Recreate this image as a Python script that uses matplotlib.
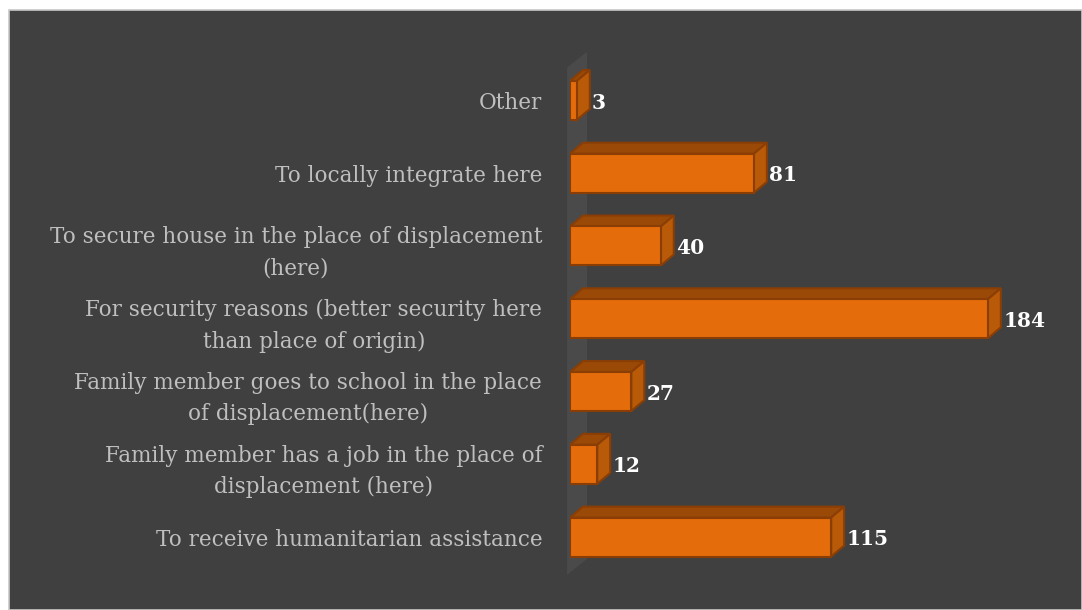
import matplotlib
matplotlib.use("Agg")
import matplotlib.pyplot as plt
from matplotlib.patches import Polygon, Rectangle

categories = [
    "To receive humanitarian assistance",
    "Family member has a job in the place of\ndisplacement (here)",
    "Family member goes to school in the place\nof displacement(here)",
    "For security reasons (better security here\nthan place of origin)",
    "To secure house in the place of displacement\n(here)",
    "To locally integrate here",
    "Other",
]
values = [115, 12, 27, 184, 40, 81, 3]

W, H = 1082, 610
fig = plt.figure(figsize=(W / 100, H / 100), dpi=100)
fig.patch.set_facecolor("white")
bg = Rectangle((9 / W, 0), 1 - 9 / W, 1 - 10 / H, transform=fig.transFigure,
               facecolor="#404040", edgecolor="#c8c8c8", linewidth=1.2, zorder=-10)
fig.add_artist(bg)

ax = fig.add_axes([570 / W, 10 / H, 511 / W, 560 / H])
ax.set_zorder(5)
ax.set_facecolor("none")
ax.set_xlim(0, 225)
ax.set_ylim(-0.865, 6.83)
for s in ax.spines.values():
    s.set_visible(False)
ax.set_xticks([])

bh = 0.536
dx, dy = 5.7, 0.15
front = "#E46C0A"
top_c = "#9A4A06"
side_c = "#B85A08"
edge = "#8A3E05"

# back wall
wdx, wdy = 8.8, 0.22
wall = Polygon([(-1.3, -0.52), (-1.3, 6.45), (-1.3 + wdx, 6.45 + wdy), (-1.3 + wdx, -0.52 + wdy)],
               closed=True, facecolor="#4a4a4a", edgecolor="none", zorder=1, clip_on=False)
ax.add_patch(wall)

ypos = list(range(len(values)))
ax.barh(ypos, values, height=bh, color=front, edgecolor=edge, linewidth=1.5, zorder=3)
for y, v in zip(ypos, values):
    t = y + bh / 2
    b = y - bh / 2
    ax.add_patch(Polygon([(0, t), (v, t), (v + dx, t + dy), (dx, t + dy)], closed=True,
                         facecolor=top_c, edgecolor=edge, linewidth=1.5, zorder=2))
    ax.add_patch(Polygon([(v, b), (v, t), (v + dx, t + dy), (v + dx, b + dy)], closed=True,
                         facecolor=side_c, edgecolor=edge, linewidth=1.5, zorder=2))
    ax.text(v + dx + 1.0, y - 0.03, str(v), color="white", fontweight="bold",
            family="DejaVu Serif", fontsize=14.5, va="center", ha="left", zorder=4)

ax.set_yticks(ypos)
ax.set_yticklabels(categories, family="DejaVu Serif", fontsize=15.5, color="#bfbfbf",
                   multialignment="center", linespacing=1.55)
ax.tick_params(axis="y", length=0, pad=20)

fig.savefig("out.png", dpi=100, facecolor=fig.get_facecolor())
